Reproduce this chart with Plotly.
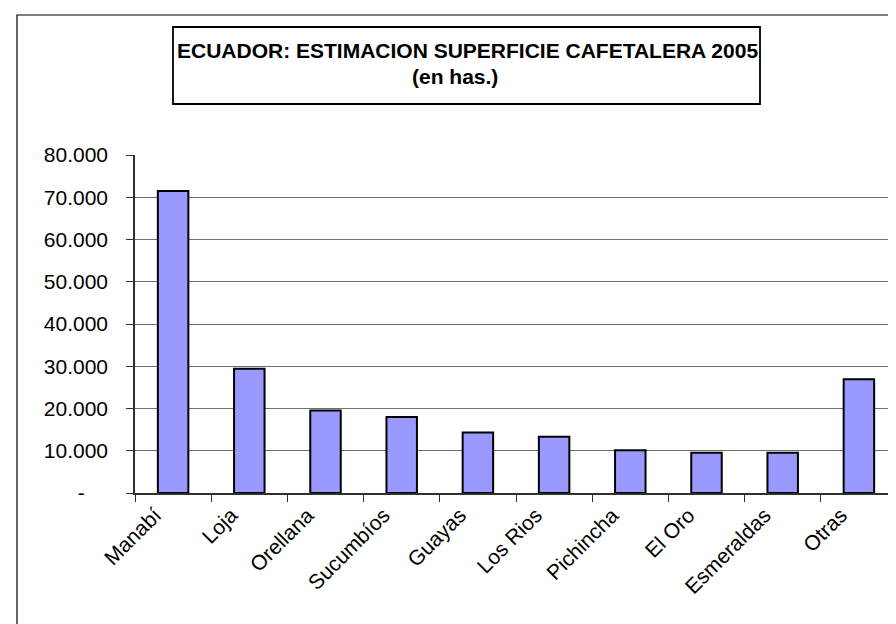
import plotly.graph_objs as go

# Superficie cafetalera estimada por provincia, 2005 (hectareas)
provincias = ['Manabí', 'Loja', 'Orellana', 'Sucumbíos', 'Guayas', 'Los Rios',
              'Pichincha', 'El Oro', 'Esmeraldas', 'Otras']
superficie = [71500, 29400, 19500, 18000, 14300, 13300, 10100, 9500, 9500, 26900]

y_tick_vals = [0, 10000, 20000, 30000, 40000, 50000, 60000, 70000, 80000]
y_tick_text = ['-\u00a0\u00a0\u00a0\u00a0', '10.000', '20.000', '30.000', '40.000',
               '50.000', '60.000', '70.000', '80.000']

W, H = 896, 624
# plot area in pixels
L, R, T, B = 127, 889, 147, 485
FONT = 'Arial, Liberation Sans, sans-serif'


def px(x):
    return (x - L) / (R - L)


def py(y):
    return (B - y) / (B - T)


fig = go.Figure()
fig.add_trace(go.Bar(
    x=provincias, y=superficie,
    marker=dict(color='#9999FF', line=dict(color='#000000', width=2)),
    width=0.4, hoverinfo='skip'
))

shapes = [
    # outer chart border (runs off the right and bottom edge)
    dict(type='rect', xref='paper', yref='paper', x0=px(9), x1=px(905), y0=py(7), y1=py(640),
         line=dict(color='#000000', width=1.2), fillcolor='rgba(0,0,0,0)'),
    # title box
    dict(type='rect', xref='paper', yref='paper', x0=px(165), x1=px(752), y0=py(19), y1=py(96),
         line=dict(color='#000000', width=1.8), fillcolor='rgba(0,0,0,0)'),
    # right border of plot area
    dict(type='line', xref='paper', yref='paper', x0=1, x1=1, y0=0, y1=1,
         line=dict(color='#9a9a9a', width=1.2)),
]

annotations = [
    dict(text='<b>ECUADOR: ESTIMACION SUPERFICIE CAFETALERA 2005</b>', xref='paper', yref='paper',
         x=px(459), y=py(42), xanchor='center', yanchor='middle', showarrow=False,
         font=dict(family=FONT, size=21, color='#000000')),
    dict(text='<b>(en has.)</b>', xref='paper', yref='paper',
         x=px(447), y=py(69), xanchor='center', yanchor='middle', showarrow=False,
         font=dict(family=FONT, size=21, color='#000000')),
]

fig.update_layout(
    width=W, height=H,
    margin=dict(l=L, r=W - R, t=T, b=H - B),
    paper_bgcolor='white', plot_bgcolor='white',
    showlegend=False, hovermode=False,
    font=dict(family=FONT, size=21, color='#000000'),
    shapes=shapes, annotations=annotations,
    xaxis=dict(
        showline=True, linecolor='#303030', linewidth=1.5,
        ticks='outside', ticklen=7, tickcolor='#303030', tickwidth=1.2,
        tickson='boundaries', tickangle=-45, showgrid=False,
        ticklabelshift=-18,
        tickfont=dict(family=FONT, size=21, color='#000000'),
    ),
    yaxis=dict(
        range=[0, 80000], tickvals=y_tick_vals, ticktext=y_tick_text,
        showline=True, linecolor='#303030', linewidth=1.5,
        ticks='outside', ticklen=7, tickcolor='#303030', tickwidth=1.2,
        showgrid=True, gridcolor='#6e6e6e', gridwidth=1, zeroline=False,
        ticklabelstandoff=14,
        tickfont=dict(family=FONT, size=21, color='#000000'),
    ),
)

fig.write_html('out.html')
